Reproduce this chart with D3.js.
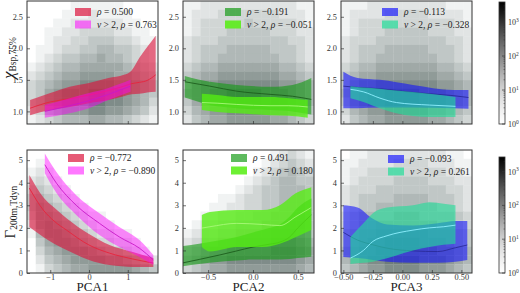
<!DOCTYPE html>
<html>
<head>
<meta charset="utf-8">
<script src="https://cdn.jsdelivr.net/npm/d3@7"></script>
<style>
    body { margin: 0; background: #fff; }
    svg { display: block; font-family: "Liberation Serif", "DejaVu Serif", serif; }
</style>
</head>
<body>
<div id="chart"></div>
<script>

/* * * * * * * * * * * * * *
*          data            *
* * * * * * * * * * * * * */

// axis domains + ticks
const pca1Domain = [-1.6, 1.78];
const pca2Domain = [-0.78, 0.68];
const pca3Domain = [-0.52, 0.59];
const chiDomain = [0.8, 2.75];
const gammaDomain = [0, 5.45];
const pca1Ticks = [-1, 0, 1];
const pca2Ticks = [-0.5, 0, 0.5];
const pca3Ticks = [-0.5, -0.25, 0, 0.25, 0.5];
const chiTicks = [1.0, 1.5, 2.0, 2.5];
const gammaTicks = [0, 1, 2, 3, 4, 5];

// 2d histograms, log-count level 0-9 per cell, rows top -> bottom
const heatChiPca1 = [
    "000001111110000",
    "000011121111000",
    "000112222221100",
    "001122333322110",
    "001223344433211",
    "011233445544321",
    "012344556554321",
    "123455666665432",
    "234566777766543",
    "345677888877654",
    "346788899887654",
    "346788899887653",
    "235677788776542",
    "123455566554321"
];
const heatChiPca2 = [
    "112222222222211",
    "122233333332221",
    "123333343333321",
    "123334444433322",
    "233344444444332",
    "234445555544432",
    "234455555554432",
    "345566666665543",
    "456677777776654",
    "467788888887765",
    "567889999888765",
    "467889999888765",
    "356778888877654",
    "245667777766543"
];
const heatChiPca3 = [
    "111222222222111",
    "122223333322221",
    "123333333333321",
    "123334444433322",
    "233344444444332",
    "234445555544432",
    "234455555554432",
    "345566666665543",
    "456677777776654",
    "467788888887765",
    "567889999888765",
    "467889999888765",
    "356778888877654",
    "245667777766543"
];
const heatGammaPca1 = [
    "000000000000000",
    "010000000000000",
    "121000000000000",
    "232100000000000",
    "343210000000000",
    "454321000000000",
    "465432100000000",
    "366543211000000",
    "267654321100000",
    "157765432211000",
    "046776543322100",
    "035677765443210",
    "024567777665432",
    "013456677777654"
];
const heatGammaPca2 = [
    "000000000012321",
    "000000000123432",
    "000000001234543",
    "000000012345544",
    "000000123445554",
    "000011233445554",
    "000112233445554",
    "001122334455554",
    "012233444555554",
    "123344555566654",
    "234455666677765",
    "345667777788876",
    "456778888888876",
    "345667777777765"
];
const heatGammaPca3 = [
    "011222222222110",
    "112222333322211",
    "122333333333221",
    "123333444433322",
    "233344444444332",
    "234444555544432",
    "234455555554432",
    "345555666555543",
    "345566666665543",
    "456677777766654",
    "456778888777654",
    "567788888887765",
    "567889999888765",
    "456778888777654"
];

// running median + spread, full sample and nu > 2 sample
const chiPca1AllX = [-1.52, -1.0, -0.5, 0.0, 0.5, 0.9, 1.1, 1.3, 1.5, 1.72];
const chiPca1AllMed = [1.05, 1.15, 1.2, 1.26, 1.33, 1.4, 1.44, 1.46, 1.49, 1.58];
const chiPca1AllLo = [0.94, 1.02, 1.07, 1.13, 1.18, 1.24, 1.27, 1.28, 1.30, 1.31];
const chiPca1AllHi = [1.18, 1.29, 1.39, 1.45, 1.53, 1.58, 1.65, 1.85, 2.02, 2.2];
const chiPca1NuX = [-1.14, -0.5, 0.0, 0.5, 1.07];
const chiPca1NuMed = [1.0, 1.09, 1.17, 1.27, 1.4];
const chiPca1NuLo = [0.9, 0.97, 1.05, 1.18, 1.31];
const chiPca1NuHi = [1.1, 1.21, 1.29, 1.37, 1.5];

const chiPca2AllX = [-0.76, -0.6, -0.48, -0.18, 0.19, 0.44, 0.65];
const chiPca2AllMed = [1.47, 1.43, 1.40, 1.32, 1.27, 1.24, 1.19];
const chiPca2AllLo = [1.22, 1.15, 1.1, 1.05, 1.02, 1.0, 0.95];
const chiPca2AllHi = [1.56, 1.5, 1.47, 1.42, 1.39, 1.42, 1.53];
const chiPca2NuX = [-0.57, -0.4, -0.18, 0.19, 0.4, 0.61];
const chiPca2NuMed = [1.14, 1.13, 1.11, 1.09, 1.09, 1.07];
const chiPca2NuLo = [1.02, 0.99, 0.97, 0.94, 0.93, 0.9];
const chiPca2NuHi = [1.28, 1.26, 1.23, 1.23, 1.21, 1.18];

const chiPca3AllX = [-0.5, -0.38, -0.19, 0.09, 0.43, 0.56];
const chiPca3AllMed = [1.4, 1.38, 1.36, 1.3, 1.25, 1.22];
const chiPca3AllLo = [1.05, 1.05, 1.06, 1.06, 1.05, 1.04];
const chiPca3AllHi = [1.63, 1.53, 1.5, 1.42, 1.34, 1.34];
const chiPca3NuX = [-0.44, -0.33, -0.19, -0.05, 0.23, 0.45];
const chiPca3NuMed = [1.35, 1.31, 1.21, 1.14, 1.10, 1.08];
const chiPca3NuLo = [1.21, 1.15, 1.05, 0.97, 0.91, 0.91];
const chiPca3NuHi = [1.40, 1.38, 1.36, 1.33, 1.28, 1.23];

const gammaPca1AllX = [-1.54, -1.18, -0.9, -0.58, 0.0, 0.53, 1.13, 1.66];
const gammaPca1AllMed = [3.76, 2.79, 2.3, 1.9, 1.24, 0.88, 0.62, 0.44];
const gammaPca1AllLo = [2.04, 1.6, 1.3, 1.02, 0.58, 0.35, 0.27, 0.27];
const gammaPca1AllHi = [4.34, 3.36, 2.9, 2.43, 1.73, 1.24, 0.93, 0.66];
const gammaPca1NuX = [-1.14, -0.84, -0.33, 0.27, 0.78, 1.30, 1.66];
const gammaPca1NuMed = [4.8, 3.98, 3.0, 2.2, 1.6, 1.1, 0.58];
const gammaPca1NuLo = [4.42, 3.54, 2.57, 1.68, 1.15, 0.71, 0.35];
const gammaPca1NuHi = [5.3, 4.47, 3.45, 2.65, 2.04, 1.46, 0.8];

const gammaPca2AllX = [-0.78, -0.6, -0.37, -0.18, 0.0, 0.19, 0.3, 0.41, 0.5, 0.65];
const gammaPca2AllMed = [0.45, 0.6, 0.8, 0.98, 1.15, 1.28, 1.37, 1.6, 2.0, 2.57];
const gammaPca2AllLo = [0.3, 0.4, 0.5, 0.55, 0.6, 0.6, 0.6, 0.62, 0.66, 0.72];
const gammaPca2AllHi = [1.2, 1.3, 1.45, 1.6, 1.8, 2.0, 2.15, 2.5, 2.9, 3.3];
const gammaPca2NuX = [-0.57, -0.48, -0.18, 0.11, 0.3, 0.48, 0.65];
const gammaPca2NuMed = [1.99, 2.05, 2.2, 2.15, 2.1, 2.5, 2.9];
const gammaPca2NuLo = [1.15, 0.95, 1.15, 1.15, 1.3, 1.6, 1.9];
const gammaPca2NuHi = [2.57, 2.7, 2.79, 2.79, 3.0, 3.54, 3.8];

const gammaPca3AllX = [-0.5, -0.38, -0.25, -0.13, 0.09, 0.3, 0.45, 0.55];
const gammaPca3AllMed = [1.8, 1.46, 1.25, 1.1, 0.98, 0.95, 1.12, 1.24];
const gammaPca3AllLo = [0.71, 0.66, 0.58, 0.5, 0.45, 0.45, 0.5, 0.58];
const gammaPca3AllHi = [3.0, 2.9, 2.4, 2.15, 2.1, 2.2, 2.3, 2.3];
const gammaPca3NuX = [-0.44, -0.33, -0.25, -0.13, 0.09, 0.23, 0.35, 0.45];
const gammaPca3NuMed = [0.66, 1.0, 1.4, 1.65, 1.9, 2.0, 2.05, 2.12];
const gammaPca3NuLo = [0.4, 0.45, 0.5, 0.65, 1.0, 1.15, 1.25, 1.3];
const gammaPca3NuHi = [1.6, 2.2, 2.65, 2.9, 3.0, 3.14, 3.07, 3.0];

// correlation coefficients for the legends
const rhoAll = ["0.500", "\u22120.191", "\u22120.113", "\u22120.772", "0.491", "\u22120.093"];
const rhoNu = ["0.763", "\u22120.051", "\u22120.328", "\u22120.890", "0.180", "0.261"];

// colorbar decades
const cbarTicks = [1, 10, 100, 1000];


/* * * * * * * * * * * * * *
*         PanelVis         *
* * * * * * * * * * * * * */

class PanelVis {

    constructor(svg, cfg) {
        this.svg = svg;
        this.cfg = cfg;
        this.initVis();
    }

    initVis() {
        let vis = this;
        let c = vis.cfg;

        vis.x = d3.scaleLinear().domain(c.xDomain).range([c.left, c.left + c.w]);
        vis.y = d3.scaleLinear().domain(c.yDomain).range([c.top + c.h, c.top]);

        vis.g = vis.svg.append("g");

        // clip everything to the frame
        vis.svg.select("defs").append("clipPath")
            .attr("id", "clip" + c.id)
            .append("rect")
            .attr("x", c.left).attr("y", c.top)
            .attr("width", c.w).attr("height", c.h);

        vis.plot = vis.g.append("g").attr("clip-path", `url(#clip${c.id})`);

        // heatmap cells
        let nRows = c.heat.length, nCols = c.heat[0].length;
        vis.colBand = d3.scaleBand().domain(d3.range(nCols)).range([c.left, c.left + c.w]);
        vis.rowBand = d3.scaleBand().domain(d3.range(nRows)).range([c.top, c.top + c.h]);
        vis.heatColor = d3.scaleLinear().domain([1, 9]).range(["#f1f3f3", "#6f7d7a"]);

        let cells = [];
        c.heat.forEach((row, r) => {
            row.split("").forEach((ch, k) => {
                if (+ch > 0) cells.push({r: r, k: k, v: +ch});
            });
        });

        vis.plot.selectAll(".cell")
            .data(cells)
            .enter().append("rect")
            .attr("class", "cell")
            .attr("x", d => vis.colBand(d.k))
            .attr("y", d => vis.rowBand(d.r))
            .attr("width", vis.colBand.bandwidth() + 0.3)
            .attr("height", vis.rowBand.bandwidth() + 0.3)
            .attr("fill", d => vis.heatColor(d.v));

        vis.area = d3.area()
            .x(d => vis.x(d.x))
            .y0(d => vis.y(d.lo))
            .y1(d => vis.y(d.hi))
            .curve(d3.curveMonotoneX);

        vis.line = d3.line()
            .x(d => vis.x(d.x))
            .y(d => vis.y(d.med))
            .curve(d3.curveMonotoneX);

        // full sample first, nu > 2 on top
        c.series.forEach(s => {
            let pts = s.x.map((xv, i) => ({x: xv, lo: s.lo[i], hi: s.hi[i], med: s.med[i]}));
            vis.plot.append("path")
                .attr("d", vis.area(pts))
                .attr("fill", s.color)
                .attr("fill-opacity", s.alpha);
            vis.plot.append("path")
                .attr("d", vis.line(pts))
                .attr("fill", "none")
                .attr("stroke", s.lineColor)
                .attr("stroke-width", 0.9);
        });

        // axes, ticks pointing inward
        let yAxis = d3.axisLeft(vis.y).tickValues(c.yTicks).tickSize(-3).tickPadding(4)
            .tickFormat(c.yFormat);
        vis.g.append("g")
            .attr("transform", `translate(${c.left},0)`)
            .call(yAxis)
            .call(g => g.select(".domain").remove());

        let xAxis = d3.axisBottom(vis.x).tickValues(c.xTicks).tickSize(-3).tickPadding(1)
            .tickFormat(c.showX ? c.xFormat : () => "");
        vis.g.append("g")
            .attr("transform", `translate(0,${c.top + c.h})`)
            .call(xAxis)
            .call(g => g.select(".domain").remove());

        vis.g.selectAll(".tick text")
            .attr("font-size", 8.3)
            .attr("fill", "#333")
            .attr("font-family", "Liberation Serif, serif");
        vis.g.selectAll(".tick line").attr("stroke", "#333").attr("stroke-width", 0.7);

        // frame
        vis.g.append("rect")
            .attr("x", c.left).attr("y", c.top)
            .attr("width", c.w).attr("height", c.h)
            .attr("fill", "none")
            .attr("stroke", "#333")
            .attr("stroke-width", 1);

        // legend
        let leg = vis.g.append("g").attr("transform", `translate(${c.legX},${c.legY})`);
        let labels = [
            [{t: "\u03c1", i: true}, {t: " = " + c.rhoAll}],
            [{t: "\u03bd", i: true}, {t: " > 2, "}, {t: "\u03c1", i: true}, {t: " = " + c.rhoNu}]
        ];
        c.series.forEach((s, i) => {
            leg.append("rect")
                .attr("x", 0).attr("y", i * 12.5 - 4)
                .attr("width", 16).attr("height", 8)
                .attr("fill", s.color)
                .attr("fill-opacity", s.alpha + 0.08);
            let t = leg.append("text")
                .attr("x", 22).attr("y", i * 12.5 + 3.2)
                .attr("font-size", 9.5)
                .attr("fill", "#222");
            labels[i].forEach(p => {
                t.append("tspan").attr("font-style", p.i ? "italic" : "normal").text(p.t);
            });
        });
    }
}


/* * * * * * * * * * * * * *
*          layout          *
* * * * * * * * * * * * * */

const W = 520, H = 293;

let svg = d3.select("#chart").append("svg")
    .attr("width", W)
    .attr("height", H);
svg.append("defs");

let colLeft = [27, 183, 341];
let panelW = 131;
let rowTop = [1, 150];
let panelH = 123;

let fmt1 = d3.format(".1f");
let fmt2 = d3.format(".2f");
let fmtMinus = f => (d => f(d).replace("-", "\u2212"));

let red = {color: "#dc143c", alpha: 0.62, lineColor: "#e8243c"};
let mag = {color: "#ff00ff", alpha: 0.45, lineColor: "#c818c8"};
let grn = {color: "#119a11", alpha: 0.6, lineColor: "#1d5e1d"};
let lime = {color: "#55ee11", alpha: 0.78, lineColor: "#a8f878"};
let blue = {color: "#1010ff", alpha: 0.58, lineColor: "#2a2a9a"};
let teal = {color: "#22dd99", alpha: 0.62, lineColor: "#8ff0ff"};

let mk = (style, x, med, lo, hi) => Object.assign({x: x, med: med, lo: lo, hi: hi}, style);

let panels = [
    {id: 0, col: 0, row: 0, xDomain: pca1Domain, xTicks: pca1Ticks, xFormat: fmtMinus(d3.format("d")),
        heat: heatChiPca1, legX: 75, legY: 12,
        series: [mk(red, chiPca1AllX, chiPca1AllMed, chiPca1AllLo, chiPca1AllHi),
                 mk(mag, chiPca1NuX, chiPca1NuMed, chiPca1NuLo, chiPca1NuHi)]},
    {id: 1, col: 1, row: 0, xDomain: pca2Domain, xTicks: pca2Ticks, xFormat: fmtMinus(fmt1),
        heat: heatChiPca2, legX: 225, legY: 12,
        series: [mk(grn, chiPca2AllX, chiPca2AllMed, chiPca2AllLo, chiPca2AllHi),
                 mk(lime, chiPca2NuX, chiPca2NuMed, chiPca2NuLo, chiPca2NuHi)]},
    {id: 2, col: 2, row: 0, xDomain: pca3Domain, xTicks: pca3Ticks, xFormat: fmtMinus(fmt2),
        heat: heatChiPca3, legX: 382, legY: 12,
        series: [mk(blue, chiPca3AllX, chiPca3AllMed, chiPca3AllLo, chiPca3AllHi),
                 mk(teal, chiPca3NuX, chiPca3NuMed, chiPca3NuLo, chiPca3NuHi)]},
    {id: 3, col: 0, row: 1, xDomain: pca1Domain, xTicks: pca1Ticks, xFormat: fmtMinus(d3.format("d")),
        heat: heatGammaPca1, legX: 68, legY: 158,
        series: [mk(red, gammaPca1AllX, gammaPca1AllMed, gammaPca1AllLo, gammaPca1AllHi),
                 mk(mag, gammaPca1NuX, gammaPca1NuMed, gammaPca1NuLo, gammaPca1NuHi)]},
    {id: 4, col: 1, row: 1, xDomain: pca2Domain, xTicks: pca2Ticks, xFormat: fmtMinus(fmt1),
        heat: heatGammaPca2, legX: 231, legY: 158,
        series: [mk(grn, gammaPca2AllX, gammaPca2AllMed, gammaPca2AllLo, gammaPca2AllHi),
                 mk(lime, gammaPca2NuX, gammaPca2NuMed, gammaPca2NuLo, gammaPca2NuHi)]},
    {id: 5, col: 2, row: 1, xDomain: pca3Domain, xTicks: pca3Ticks, xFormat: fmtMinus(fmt2),
        heat: heatGammaPca3, legX: 388, legY: 159,
        series: [mk(blue, gammaPca3AllX, gammaPca3AllMed, gammaPca3AllLo, gammaPca3AllHi),
                 mk(teal, gammaPca3NuX, gammaPca3NuMed, gammaPca3NuLo, gammaPca3NuHi)]}
];

panels.forEach(p => {
    p.left = colLeft[p.col];
    p.top = rowTop[p.row];
    p.w = panelW;
    p.h = panelH;
    p.yDomain = p.row === 0 ? chiDomain : gammaDomain;
    p.yTicks = p.row === 0 ? chiTicks : gammaTicks;
    p.yFormat = p.row === 0 ? fmt1 : d3.format("d");
    p.showX = p.row === 1;
    p.rhoAll = rhoAll[p.id];
    p.rhoNu = rhoNu[p.id];
    new PanelVis(svg, p);
});


/* * * * * * * * * * * * * *
*        colorbars         *
* * * * * * * * * * * * * */

let grad = svg.select("defs").append("linearGradient")
    .attr("id", "cbarGrad")
    .attr("x1", "0%").attr("x2", "0%")
    .attr("y1", "100%").attr("y2", "0%");

grad.selectAll("stop")
    .data(d3.range(0, 1.0001, 0.1))
    .enter().append("stop")
    .attr("offset", d => (d * 100) + "%")
    .style("stop-color", d => d3.interpolateGreys(d));

let cbars = [
    {top: 2, bottom: 124, max: Math.pow(10, 3.59)},
    {top: 157, bottom: 273, max: Math.pow(10, 3.43)}
];

cbars.forEach(cb => {
    let cx = 499, cw = 6;
    let cy = d3.scaleLog().domain([1, cb.max]).range([cb.bottom, cb.top]);

    svg.append("rect")
        .attr("x", cx).attr("y", cb.top)
        .attr("width", cw).attr("height", cb.bottom - cb.top)
        .attr("fill", "url(#cbarGrad)")
        .attr("stroke", "#333")
        .attr("stroke-width", 0.8);

    // minor ticks
    let minor = [];
    [1, 10, 100, 1000].forEach(dec => {
        d3.range(2, 10).forEach(m => {
            if (dec * m < cb.max) minor.push(dec * m);
        });
    });
    svg.selectAll(null)
        .data(minor)
        .enter().append("line")
        .attr("x1", cx + cw - 1.5).attr("x2", cx + cw)
        .attr("y1", d => cy(d)).attr("y2", d => cy(d))
        .attr("stroke", "#333").attr("stroke-width", 0.5);

    svg.selectAll(null)
        .data(cbarTicks)
        .enter().append("line")
        .attr("x1", cx + cw - 3).attr("x2", cx + cw)
        .attr("y1", d => cy(d)).attr("y2", d => cy(d))
        .attr("stroke", "#333").attr("stroke-width", 0.7);

    let lab = svg.selectAll(null)
        .data(cbarTicks)
        .enter().append("text")
        .attr("x", cx + cw + 3)
        .attr("y", d => cy(d) + 3)
        .attr("font-size", 8)
        .attr("fill", "#333");
    lab.append("tspan").text("10");
    lab.append("tspan")
        .attr("font-size", 5.5)
        .attr("dy", -3.5)
        .text(d => Math.round(Math.log10(d)));
});


/* * * * * * * * * * * * * *
*       axis labels        *
* * * * * * * * * * * * * */

["PCA1", "PCA2", "PCA3"].forEach((name, i) => {
    svg.append("text")
        .attr("x", colLeft[i] + panelW / 2)
        .attr("y", 290.5)
        .attr("text-anchor", "middle")
        .attr("font-size", 13)
        .attr("fill", "#222")
        .text(name);
});

let chiLabel = svg.append("text")
    .attr("transform", "translate(14,58) rotate(-90)")
    .attr("text-anchor", "middle")
    .attr("fill", "#222");
chiLabel.append("tspan").attr("font-size", 17).attr("font-style", "italic").text("\u03c7");
chiLabel.append("tspan").attr("font-size", 9.5).attr("dy", 2).text("Bsp,75%");

let gammaLabel = svg.append("text")
    .attr("transform", "translate(15,212) rotate(-90)")
    .attr("text-anchor", "middle")
    .attr("fill", "#222");
gammaLabel.append("tspan").attr("font-size", 15).text("\u0393");
gammaLabel.append("tspan").attr("font-size", 9.5).attr("dy", 2).text("200m,Tdyn");

</script>
</body>
</html>
